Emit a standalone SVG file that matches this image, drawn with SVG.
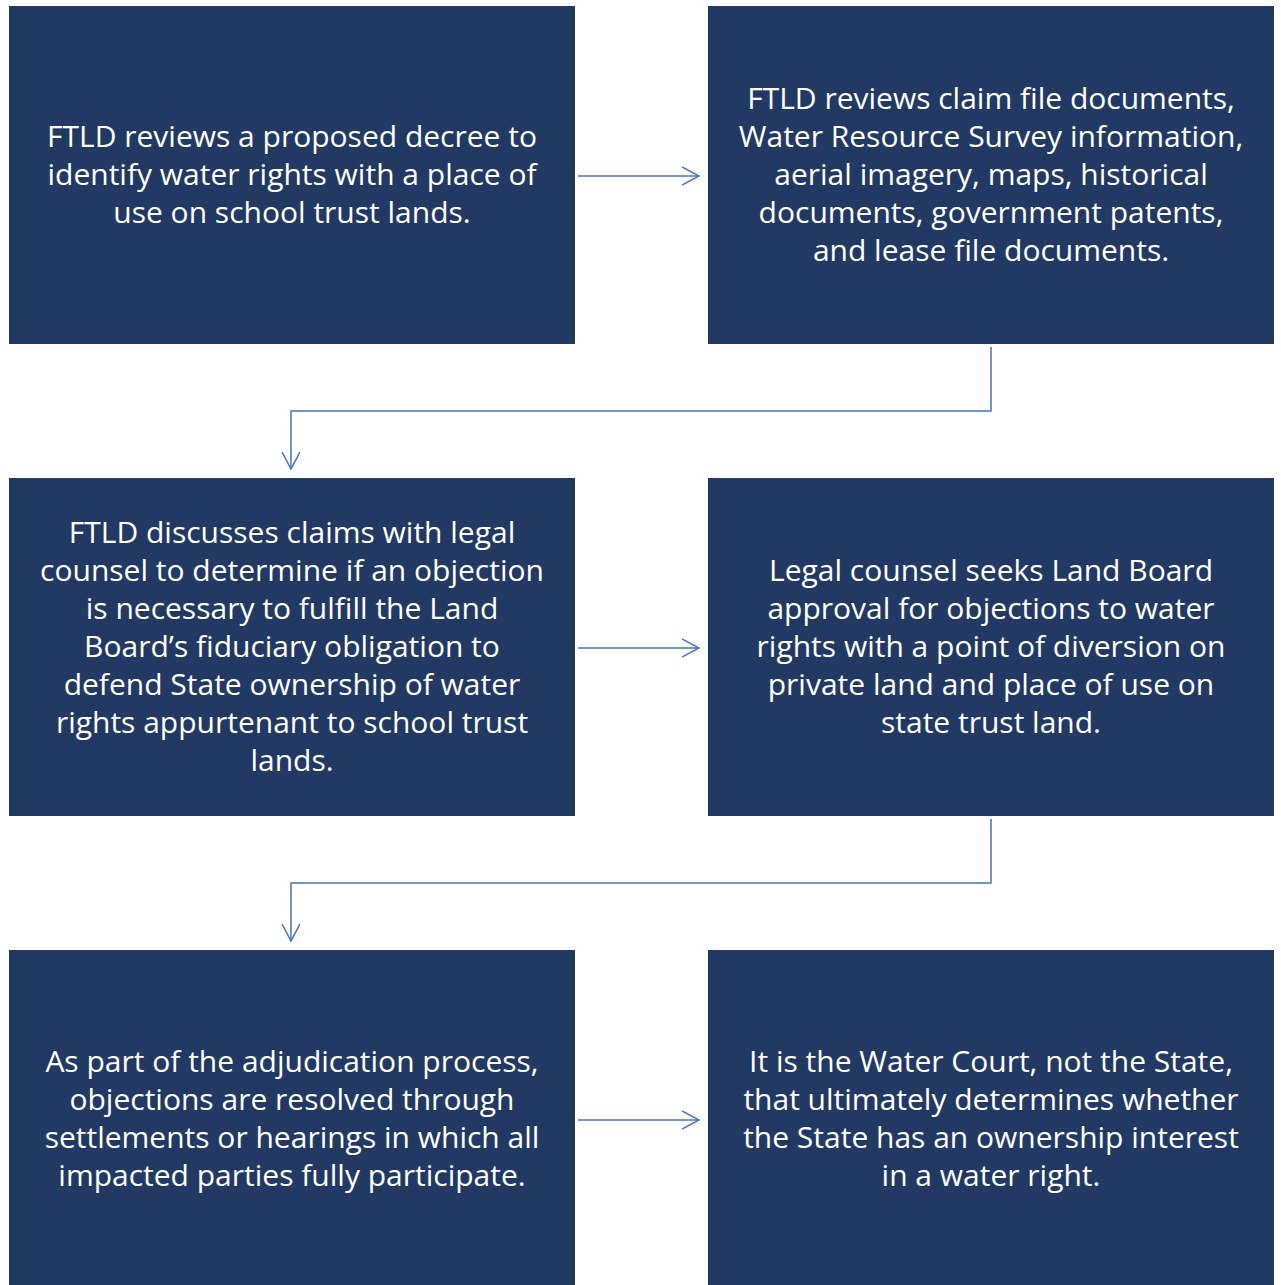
<svg xmlns="http://www.w3.org/2000/svg" width="1281" height="1285" viewBox="0 0 1281 1285">
<style>
.box{fill:#223a63;}
.t{font-family:"Open Sans","Liberation Sans",sans-serif;font-size:30px;fill:#ffffff;text-anchor:middle;}
.c{fill:none;stroke:#4472c4;stroke-width:1.5;}
</style>
<defs>
<marker id="ah" viewBox="0 0 18 20" refX="17" refY="10" markerWidth="18" markerHeight="20" markerUnits="userSpaceOnUse" orient="auto">
<path d="M0,1 L17,10 L0,19" fill="none" stroke="#4472c4" stroke-width="1.5"/>
</marker>
</defs>
<rect width="1281" height="1285" fill="#ffffff"/>
<g id="n1"><rect class="box" x="9" y="6" width="566" height="338"/>
<text class="t"><tspan x="292" y="147">FTLD reviews a proposed decree to</tspan><tspan x="292" y="185">identify water rights with a place of</tspan><tspan x="292" y="223">use on school trust lands.</tspan></text></g>
<g id="n2"><rect class="box" x="708" y="6" width="566" height="338"/>
<text class="t"><tspan x="991" y="109">FTLD reviews claim file documents,</tspan><tspan x="991" y="147">Water Resource Survey information,</tspan><tspan x="991" y="185">aerial imagery, maps, historical</tspan><tspan x="991" y="223">documents, government patents,</tspan><tspan x="991" y="261">and lease file documents.</tspan></text></g>
<g id="n3"><rect class="box" x="9" y="478" width="566" height="338"/>
<text class="t"><tspan x="292" y="543">FTLD discusses claims with legal</tspan><tspan x="292" y="581">counsel to determine if an objection</tspan><tspan x="292" y="619">is necessary to fulfill the Land</tspan><tspan x="292" y="657">Board’s fiduciary obligation to</tspan><tspan x="292" y="695">defend State ownership of water</tspan><tspan x="292" y="733">rights appurtenant to school trust</tspan><tspan x="292" y="771">lands.</tspan></text></g>
<g id="n4"><rect class="box" x="708" y="478" width="566" height="338"/>
<text class="t"><tspan x="991" y="581">Legal counsel seeks Land Board</tspan><tspan x="991" y="619">approval for objections to water</tspan><tspan x="991" y="657">rights with a point of diversion on</tspan><tspan x="991" y="695">private land and place of use on</tspan><tspan x="991" y="733">state trust land.</tspan></text></g>
<g id="n5"><rect class="box" x="9" y="950" width="566" height="340"/>
<text class="t"><tspan x="292" y="1072">As part of the adjudication process,</tspan><tspan x="292" y="1110">objections are resolved through</tspan><tspan x="292" y="1148">settlements or hearings in which all</tspan><tspan x="292" y="1186">impacted parties fully participate.</tspan></text></g>
<g id="n6"><rect class="box" x="708" y="950" width="566" height="340"/>
<text class="t"><tspan x="991" y="1072">It is the Water Court, not the State,</tspan><tspan x="991" y="1110">that ultimately determines whether</tspan><tspan x="991" y="1148">the State has an ownership interest</tspan><tspan x="991" y="1186">in a water right.</tspan></text></g>
<g id="connectors">
<path class="c" d="M578,176 H699" marker-end="url(#ah)"/>
<path class="c" d="M991,347 V411 H291 V469" marker-end="url(#ah)"/>
<path class="c" d="M578,648 H699" marker-end="url(#ah)"/>
<path class="c" d="M991,819 V883 H291 V941" marker-end="url(#ah)"/>
<path class="c" d="M578,1120 H699" marker-end="url(#ah)"/>
</g>
</svg>
